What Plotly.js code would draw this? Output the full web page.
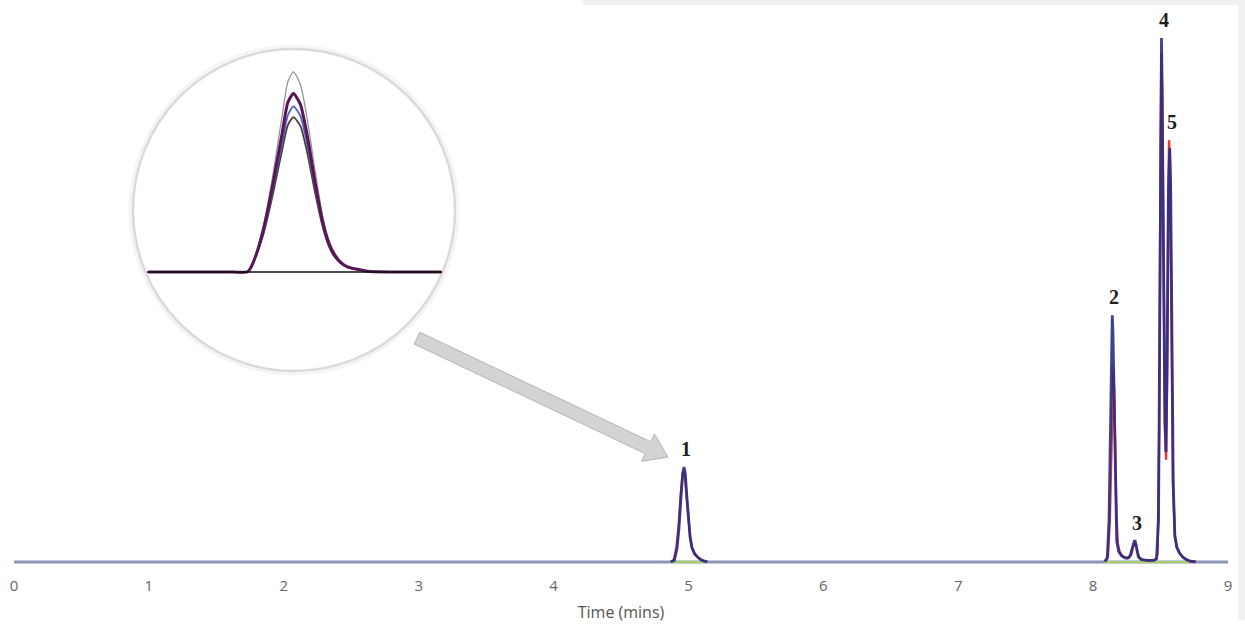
<!DOCTYPE html>
<html>
<head>
<meta charset="utf-8">
<script src="https://cdn.plot.ly/plotly-3.0.1.min.js"></script>
<style>html,body{margin:0;padding:0;background:#fff;}#chart{width:1245px;height:630px;}</style>
</head>
<body>
<div id="chart"></div>
<script>
// ---- Main chromatogram data (time in minutes, signal in relative units) ----
const tickValues = [0, 1, 2, 3, 4, 5, 6, 7, 8, 9];
const tickLabels = ['0', '1', '2', '3', '4', '5', '6', '7', '8', '9'];

const baselineTime = [0, 9];
const baselineSignal = [0, 0];

const blankTime = [4.88, 5.12, null, 8.08, 8.76];
const blankSignal = [0, 0, null, 0, 0];

const sampleATime = [
  4.870, 4.895, 4.915, 4.930, 4.945, 4.958, 4.967, 4.976, 4.988, 5.000, 5.012, 5.025, 5.045, 5.070, 5.095, 5.120, 5.140,
  null,
  8.085, 8.105, 8.118, 8.130, 8.138, 8.142, 8.147, 8.155, 8.165, 8.175, 8.190, 8.210, 8.235, 8.255, 8.275, 8.292, 8.305,
  8.312, 8.322, 8.335, 8.355, 8.400, 8.450, 8.470, 8.485, 8.495, 8.503, 8.507, 8.512, 8.522, 8.532, 8.540, 8.548, 8.558,
  8.568, 8.575, 8.584, 8.594, 8.606, 8.620, 8.640, 8.665, 8.695, 8.720, 8.760
];
const sampleASignal = [
  0.05, 0.3, 2.5, 6.5, 12.5, 17.0, 18.1, 17.0, 12.5, 8.0, 4.8, 2.8, 1.6, 0.9, 0.4, 0.15, 0.05,
  null,
  0.05, 0.8, 8, 30, 44, 47.1, 44, 30, 12, 4, 2.0, 1.2, 0.8, 0.7, 1.2, 2.8, 4.0,
  4.0, 2.6, 1.0, 0.5, 0.3, 0.3, 0.6, 8, 50, 95, 100, 90, 50, 27, 21, 36, 70,
  79, 72, 40, 15, 5, 2.8, 1.7, 0.9, 0.4, 0.15, 0.05
];

const sampleBTime = [
  4.868, 4.892, 4.912, 4.928, 4.943, 4.957, 4.966, 4.975, 4.988, 5.000, 5.013, 5.027, 5.047, 5.072, 5.100, 5.130,
  null,
  8.095, 8.110, 8.124, 8.136, 8.145, 8.150, 8.156, 8.164, 8.173, 8.183, 8.198, 8.220, 8.245, 8.265, 8.283, 8.298, 8.310,
  8.318, 8.328, 8.342, 8.365, 8.420, 8.460, 8.478, 8.490, 8.500, 8.506, 8.512, 8.522, 8.533, 8.541, 8.550, 8.558, 8.563,
  8.570, 8.580, 8.592, 8.606, 8.622, 8.642, 8.668, 8.698, 8.725, 8.760
];
const sampleBSignal = [
  0.05, 0.4, 3.0, 7.2, 13.0, 16.8, 17.4, 16.4, 12.0, 7.8, 4.6, 2.7, 1.5, 0.8, 0.3, 0.05,
  null,
  0.1, 1.0, 8, 24, 34, 36.8, 33, 22, 9, 3.5, 1.8, 1.1, 0.8, 0.8, 1.5, 3.0, 3.6,
  3.4, 2.0, 0.9, 0.4, 0.3, 0.4, 1.5, 25, 80, 97, 90, 52, 26, 19.5, 40, 72, 80.5,
  76, 42, 15, 5, 2.8, 1.7, 0.9, 0.4, 0.1, 0.02
];

const peakNames = ['1', '2', '3', '4', '5'];
const peakTimes = [4.967, 8.142, 8.31, 8.507, 8.568];
const peakHeights = [18.1, 47.1, 4.0, 100, 80.5];

// ---- Inset (magnified peak 1, several injections) ----
const insetTime = [4.760, 4.880, 4.901, 4.905, 4.914, 4.924, 4.931, 4.938, 4.945, 4.951, 4.959, 4.967,
  4.977, 4.987, 4.998, 5.009, 5.017, 5.024, 5.034, 5.044, 5.067, 5.077, 5.120, 5.178];
const insetGray   = [0, 0, 0, 0.3, 2.0, 4.7, 7.2, 10.0, 13.2, 15.9, 19.3, 20.3, 19.0, 15.4, 10.2, 5.6, 3.4, 2.2, 1.1, 0.55, 0.15, 0.05, 0, 0];
const insetPurple = [0, 0, 0, 0.3, 1.8, 4.27, 6.5, 9.05, 11.8, 14.13, 17.19, 18.1, 16.98, 13.73, 9.05, 4.98, 3.0, 1.93, 1.0, 0.51, 0.15, 0.05, 0, 0];
const insetBlue   = [0, 0, 0, 0.3, 1.7, 4.0, 6.1, 8.5, 11.0, 13.1, 15.9, 16.8, 15.8, 12.8, 8.5, 4.7, 2.8, 1.8, 0.95, 0.5, 0.15, 0.05, 0, 0];
const insetBrown  = [0, 0, 0, 0.3, 1.7, 3.8, 5.8, 8.0, 10.4, 12.4, 14.9, 15.7, 14.8, 12.0, 8.0, 4.5, 2.7, 1.7, 0.9, 0.5, 0.15, 0.05, 0, 0];

const traces = [
  {x: baselineTime, y: baselineSignal, mode: 'lines', line: {color: '#8a96b4', width: 3}, hoverinfo: 'skip'},
  {x: blankTime, y: blankSignal, mode: 'lines', line: {color: '#a5cf6c', width: 2}, connectgaps: false, hoverinfo: 'skip'},
  {x: sampleBTime, y: sampleBSignal, mode: 'lines', line: {color: '#e23a3c', width: 2.4}, connectgaps: false},
  {x: sampleATime, y: sampleASignal, mode: 'lines', line: {color: '#2a2e84', width: 2.8}, opacity: 0.9, connectgaps: false},
  {x: insetTime, y: insetGray, xaxis: 'x2', yaxis: 'y2', mode: 'lines', line: {color: '#8f8f8f', width: 1.2, shape: 'spline', smoothing: 0.6}},
  {x: insetTime, y: insetBrown, xaxis: 'x2', yaxis: 'y2', mode: 'lines', line: {color: '#4e3a30', width: 1.8, shape: 'spline', smoothing: 0.6}},
  {x: insetTime, y: insetBlue, xaxis: 'x2', yaxis: 'y2', mode: 'lines', line: {color: '#4a62c4', width: 1.8, shape: 'spline', smoothing: 0.6}},
  {x: insetTime, y: insetPurple, xaxis: 'x2', yaxis: 'y2', mode: 'lines', line: {color: '#5a1654', width: 3, shape: 'spline', smoothing: 0.6}}
];

const annotations = peakNames.map((name, i) => ({
  x: peakTimes[i], y: peakHeights[i], xref: 'x', yref: 'y',
  text: '<b>' + name + '</b>', showarrow: false,
  xshift: 2, yshift: 18, yanchor: 'middle',
  font: {family: 'Liberation Serif, Times New Roman, serif', size: 20, color: '#1e1e1e'}
}));

const shapes = [
  // page frame shading (top band and right strip)
  {type: 'rect', xref: 'paper', yref: 'paper', xsizemode: 'pixel', ysizemode: 'pixel',
   xanchor: 0, yanchor: 1, x0: 569, x1: 1231, y0: 10, y1: 5,
   fillcolor: '#f1f1f1', line: {width: 0}, layer: 'below'},
  {type: 'rect', xref: 'paper', yref: 'paper', xsizemode: 'pixel', ysizemode: 'pixel',
   xanchor: 1, yanchor: 1, x0: 10, x1: 17, y0: 10, y1: -610,
   fillcolor: '#f1f1f1', line: {width: 0}, layer: 'below'},
  // magnifier circle shadow and ring
  {type: 'circle', xref: 'paper', yref: 'paper', xsizemode: 'pixel', ysizemode: 'pixel',
   xanchor: 0.23064, yanchor: 0.64029, x0: -163, x1: 163, y0: -163, y1: 163,
   fillcolor: 'rgba(0,0,0,0)', line: {color: 'rgba(0,0,0,0.04)', width: 5}, layer: 'below'},
  {type: 'circle', xref: 'paper', yref: 'paper', xsizemode: 'pixel', ysizemode: 'pixel',
   xanchor: 0.23064, yanchor: 0.64029, x0: -161, x1: 161, y0: -161, y1: 161,
   fillcolor: '#ffffff', line: {color: '#dadada', width: 2.5}, layer: 'below'},
  // inset baseline
  {type: 'line', xref: 'x2 domain', yref: 'y2', x0: 0, x1: 1, y0: 0, y1: 0,
   line: {color: '#111111', width: 1.6}, layer: 'above'},
  // arrow pointing to peak 1
  {type: 'path', xref: 'x', yref: 'y', xsizemode: 'pixel', ysizemode: 'pixel',
   xanchor: peakTimes[0], yanchor: peakHeights[0],
   path: 'M -264.2,134.9 L -33.1,25.3 L -29.5,33 L -16,10 L -42.3,5.85 L -38.7,13.5 L -269.8,123.1 Z',
   fillcolor: '#d3d3d3', line: {color: '#b4b4b4', width: 1}, layer: 'above'}
];

const layout = {
  width: 1245, height: 630,
  margin: {l: 14, r: 17, t: 10, b: 64},
  paper_bgcolor: '#ffffff', plot_bgcolor: 'rgba(0,0,0,0)',
  showlegend: false,
  font: {family: 'Open Sans, sans-serif', color: '#5a5a5a'},
  xaxis: {
    range: [0, 9], showgrid: false, zeroline: false, showline: false,
    tickvals: tickValues, ticktext: tickLabels,
    ticks: 'outside', ticklen: 6, tickcolor: 'rgba(0,0,0,0)',
    tickfont: {family: 'Open Sans, sans-serif', size: 15, color: '#666666'},
    title: {text: 'Time (mins)', standoff: 12, font: {family: 'Open Sans, sans-serif', size: 16, color: '#555555'}},
    fixedrange: true
  },
  yaxis: {range: [-0.763, 105.34], visible: false, fixedrange: true},
  xaxis2: {domain: [0.10956, 0.35255], range: [4.758, 5.179], visible: false, anchor: 'y2'},
  yaxis2: {domain: [0.52338, 0.90647], range: [-0.305, 21.3], visible: false, anchor: 'x2'},
  shapes: shapes,
  annotations: annotations
};

Plotly.newPlot('chart', traces, layout, {displayModeBar: false, staticPlot: true});
</script>
</body>
</html>
